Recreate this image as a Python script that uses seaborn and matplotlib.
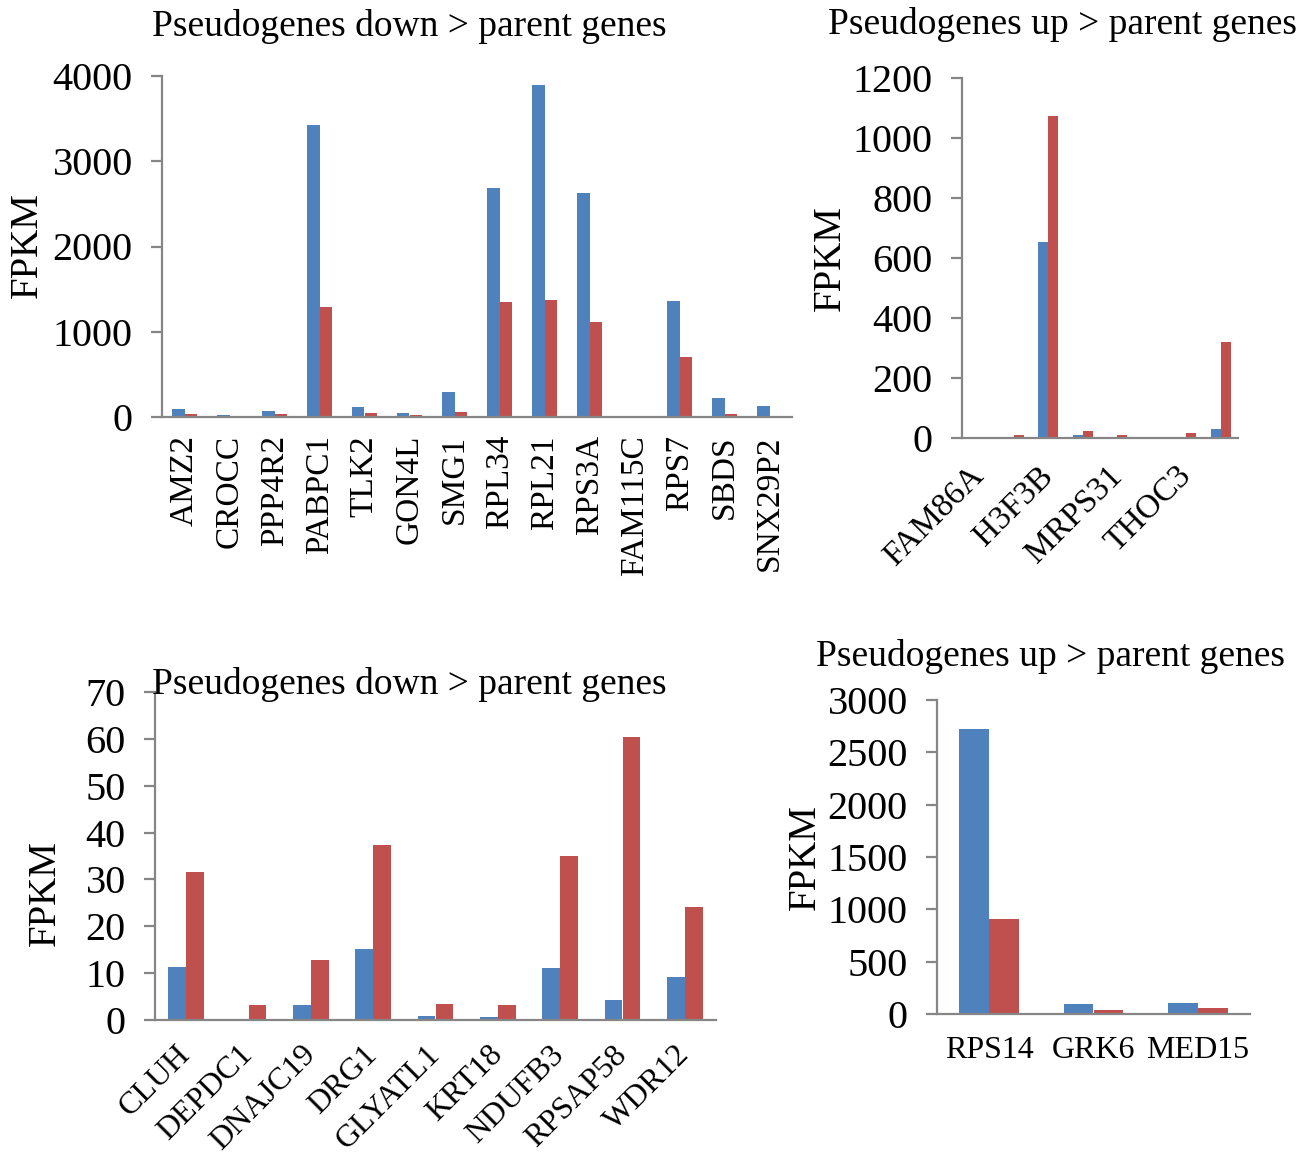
import matplotlib
matplotlib.use("Agg")
import matplotlib.pyplot as plt
import matplotlib.transforms as mtransforms
import seaborn as sns
import pandas as pd

sns.set_theme(style="white")
plt.rcParams['font.family'] = ['Liberation Serif', 'DejaVu Serif']
plt.rcParams['text.color'] = 'black'
plt.rcParams['xtick.labelcolor'] = 'black'
plt.rcParams['ytick.labelcolor'] = 'black'

BLUE = "#4F81BD"
RED = "#C0504D"
series_names = ["Parent gene", "Pseudogene"]

# ---- top-left panel: Pseudogenes down > parent genes ----
tl_genes = ["AMZ2", "CROCC", "PPP4R2", "PABPC1", "TLK2", "GON4L", "SMG1",
            "RPL34", "RPL21", "RPS3A", "FAM115C", "RPS7", "SBDS", "SNX29P2"]
tl_blue = [90, 20, 74, 3420, 113, 51, 290, 2689, 3898, 2630, 3, 1358, 219, 125]
tl_red = [31, 4, 31, 1295, 43, 20, 55, 1354, 1378, 1115, 2, 700, 35, 15]
tl_yticks = [0, 1000, 2000, 3000, 4000]

# ---- top-right panel: Pseudogenes up > parent genes ----
tr_genes = ["FAM86A", "tr_2", "H3F3B", "tr_4", "MRPS31", "tr_6", "THOC3", "tr_8"]
tr_labels = ["FAM86A", "", "H3F3B", "", "MRPS31", "", "THOC3", ""]
tr_blue = [2, 1, 654, 10, 3, 1, 4, 29]
tr_red = [4, 11, 1074, 22, 11, 4, 17, 319]
tr_yticks = [0, 200, 400, 600, 800, 1000, 1200]

# ---- bottom-left panel: Pseudogenes down > parent genes ----
bl_genes = ["CLUH", "DEPDC1", "DNAJC19", "DRG1", "GLYATL1", "KRT18",
            "NDUFB3", "RPSAP58", "WDR12"]
bl_blue = [11.4, 0.2, 3.1, 15.1, 0.85, 0.57, 11.0, 4.3, 9.1]
bl_red = [31.5, 3.1, 12.7, 37.4, 3.5, 3.3, 34.9, 60.4, 24.2]
bl_yticks = [0, 10, 20, 30, 40, 50, 60, 70]

# ---- bottom-right panel: Pseudogenes up > parent genes ----
br_genes = ["RPS14", "GRK6", "MED15"]
br_blue = [2726, 95, 108]
br_red = [906, 41, 60]
br_yticks = [0, 500, 1000, 1500, 2000, 2500, 3000]

title_down = "Pseudogenes down > parent genes"
title_up = "Pseudogenes up > parent genes"
ylabel = "FPKM"

W, H = 1314, 1159
fig = plt.figure(figsize=(W / 100, H / 100), dpi=100)
fig.patch.set_facecolor("white")

SPINE = "#868686"


def px_rect(x0, x1, ytop, ybot):
    return [x0 / W, 1 - ybot / H, (x1 - x0) / W, (ybot - ytop) / H]


def panel(rect, genes, a, b, yticks, labels, rot, ha, va, xpad, lab_size, dx=0):
    df = pd.DataFrame({
        "gene": list(genes) * 2,
        "series": [series_names[0]] * len(genes) + [series_names[1]] * len(genes),
        "FPKM": list(a) + list(b),
    })
    ax = fig.add_axes(rect)
    sns.barplot(data=df, x="gene", y="FPKM", hue="series", order=genes,
                hue_order=series_names, palette=[BLUE, RED], width=0.57,
                saturation=1, legend=False, errorbar=None, linewidth=0, ax=ax)
    ax.set_xlim(-0.5, len(genes) - 0.5)
    ax.set_ylim(yticks[0], yticks[-1])
    ax.set_yticks(yticks)
    ax.set_yticklabels([str(t) for t in yticks])
    ax.set_xticks(range(len(genes)))
    ax.set_xticklabels(labels, rotation=rot, ha=ha, va=va,
                       rotation_mode="anchor", fontsize=lab_size, color="black")
    if dx:
        off = mtransforms.ScaledTranslation(dx / 100, 0, fig.dpi_scale_trans)
        for lab in ax.get_xticklabels():
            lab.set_transform(lab.get_transform() + off)
    ax.set_xlabel("")
    ax.set_ylabel("")
    for s in ["top", "right"]:
        ax.spines[s].set_visible(False)
    for s in ["left", "bottom"]:
        ax.spines[s].set_color(SPINE)
        ax.spines[s].set_linewidth(1.6)
    ax.tick_params(axis="y", direction="out", length=8, width=1.6,
                   color=SPINE, labelsize=29, pad=13, left=True,
                   labelcolor="black")
    ax.tick_params(axis="x", length=0, pad=xpad)
    ax.set_facecolor("white")
    ax.grid(False)
    return ax


panel(px_rect(162, 792, 76, 417), tl_genes, tl_blue, tl_red, tl_yticks,
      tl_genes, 90, "right", "center", 13, 24)
panel(px_rect(962, 1238, 78, 438), tr_genes, tr_blue, tr_red, tr_yticks,
      tr_labels, 45, "right", "center", 24, 24)
panel(px_rect(155, 716, 692, 1020), bl_genes, bl_blue, bl_red, bl_yticks,
      bl_genes, 45, "right", "center", 22, 23, dx=6)
panel(px_rect(937, 1250, 700, 1014), br_genes, br_blue, br_red, br_yticks,
      br_genes, 0, "center", "top", 16, 23)

# titles
fig.text(409 / W, 1 - 27 / H, title_down, ha="center", va="center", fontsize=27)
fig.text(1062 / W, 1 - 25 / H, title_up, ha="center", va="center", fontsize=27)
fig.text(409 / W, 1 - 684 / H, title_down, ha="center", va="center", fontsize=27)
fig.text(1050 / W, 1 - 657 / H, title_up, ha="center", va="center", fontsize=27)

# y labels
fig.text(27 / W, 1 - 245 / H, ylabel, rotation=90, ha="center", va="center", fontsize=28)
fig.text(830 / W, 1 - 258 / H, ylabel, rotation=90, ha="center", va="center", fontsize=28)
fig.text(45 / W, 1 - 893 / H, ylabel, rotation=90, ha="center", va="center", fontsize=28)
fig.text(805 / W, 1 - 857 / H, ylabel, rotation=90, ha="center", va="center", fontsize=28)

fig.savefig("out.png", dpi=100, facecolor="white")
